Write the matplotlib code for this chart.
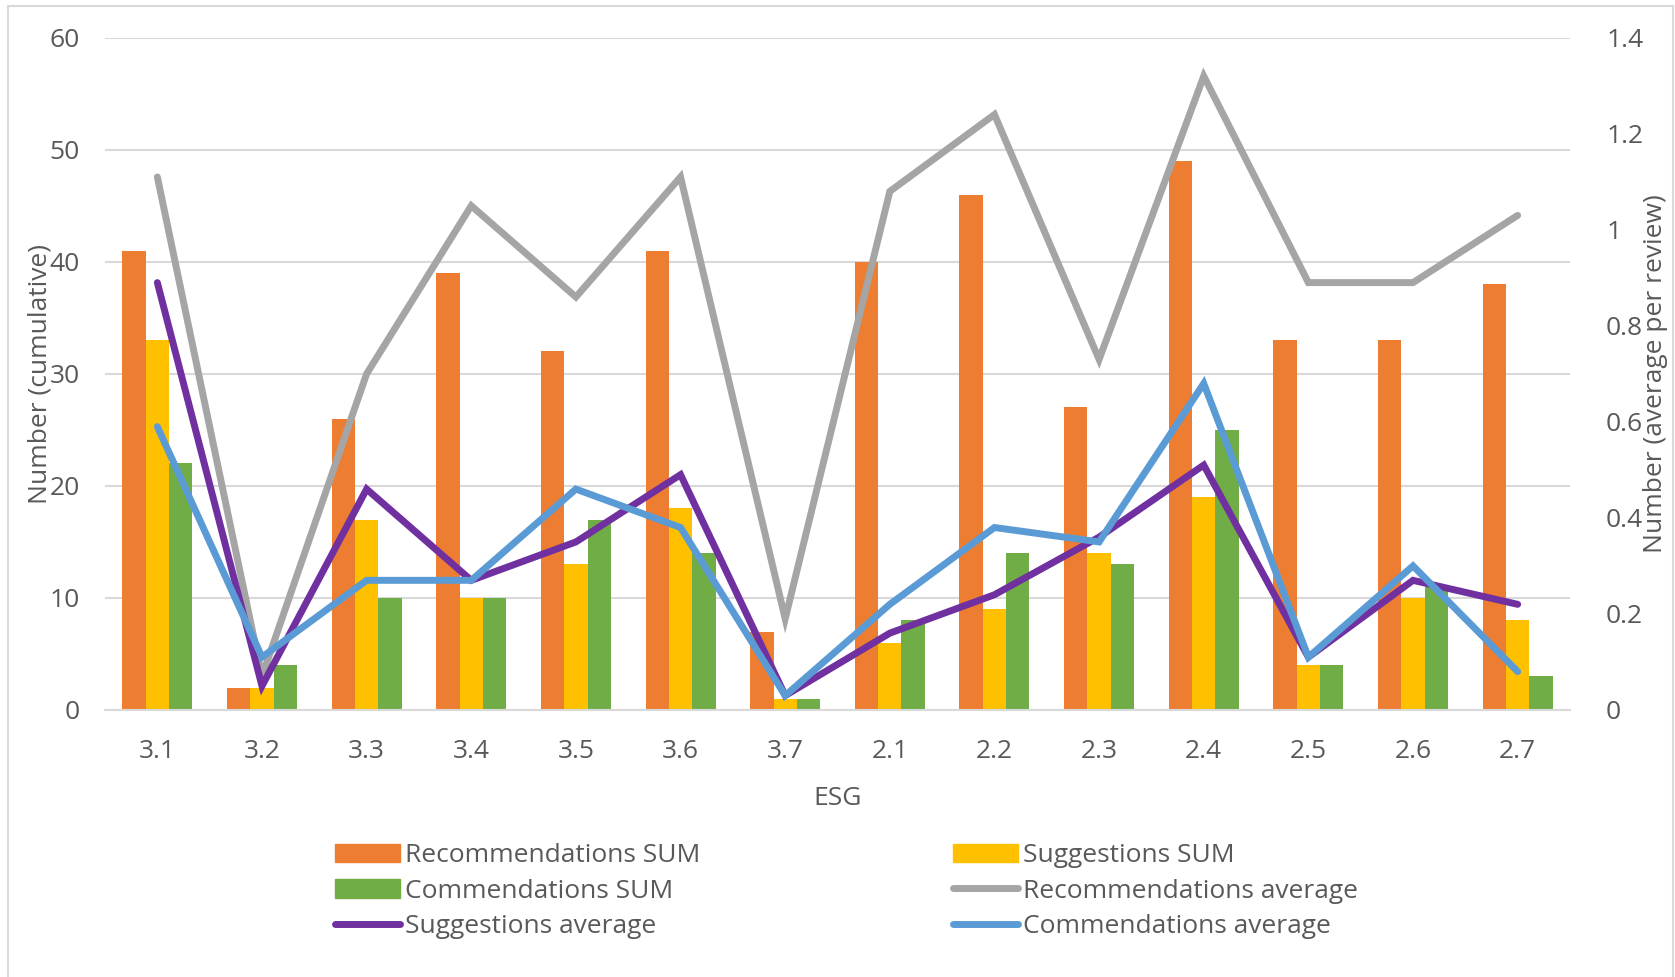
import matplotlib
matplotlib.use("Agg")
from matplotlib import pyplot as plt
from matplotlib.lines import Line2D
from matplotlib.patches import Patch, Rectangle
import numpy as np

plt.rcParams['font.family'] = ['Open Sans', 'DejaVu Sans']

categories = ['3.1', '3.2', '3.3', '3.4', '3.5', '3.6', '3.7',
              '2.1', '2.2', '2.3', '2.4', '2.5', '2.6', '2.7']

rec_sum = [41, 2, 26, 39, 32, 41, 7, 40, 46, 27, 49, 33, 33, 38]
sug_sum = [33, 2, 17, 10, 13, 18, 1, 6, 9, 14, 19, 4, 10, 8]
com_sum = [22, 4, 10, 10, 17, 14, 1, 8, 14, 13, 25, 4, 11, 3]

rec_avg = [1.11, 0.07, 0.70, 1.05, 0.86, 1.11, 0.19, 1.08, 1.24, 0.73, 1.32, 0.89, 0.89, 1.03]
sug_avg = [0.89, 0.05, 0.46, 0.27, 0.35, 0.49, 0.03, 0.16, 0.24, 0.36, 0.51, 0.11, 0.27, 0.22]
com_avg = [0.59, 0.11, 0.27, 0.27, 0.46, 0.38, 0.03, 0.22, 0.38, 0.35, 0.68, 0.11, 0.30, 0.08]

c_orange = '#ED7D31'
c_yellow = '#FFC000'
c_green = '#70AD47'
c_gray = '#A5A5A5'
c_purple = '#7030A0'
c_blue = '#5B9BD5'
txt = '#595959'
grid_c = '#D9D9D9'
fs = 19

fig = plt.figure(figsize=(16.75, 9.77), dpi=100)
# light chart border (bottom edge falls outside the image)
fig.patches.append(Rectangle((8 / 1675, -0.05), (1673 - 8) / 1675, 1.05 - 6 / 977,
                             transform=fig.transFigure, fill=False,
                             edgecolor='#D9D9D9', linewidth=1.5))

ax = fig.add_axes([0.0627, 0.2733, 0.8746, 0.6881])
x = np.arange(len(categories))
w = 0.223
ax.bar(x - w, rec_sum, w, color=c_orange, zorder=2)
ax.bar(x, sug_sum, w, color=c_yellow, zorder=2)
ax.bar(x + w, com_sum, w, color=c_green, zorder=2)

ax.set_xlim(-0.5, len(categories) - 0.5)
ax.set_ylim(0, 60)
ax.set_yticks(range(0, 61, 10))
ax.yaxis.grid(True, color=grid_c, linewidth=1.5, zorder=0)
ax.set_axisbelow(True)
for s in ['top', 'right', 'left']:
    ax.spines[s].set_visible(False)
ax.spines['bottom'].set_color(grid_c)
ax.spines['bottom'].set_linewidth(1.5)
ax.set_xticks(x)
ax.set_xticklabels(categories)
ax.tick_params(axis='both', length=0, labelsize=fs, labelcolor=txt)
ax.tick_params(axis='x', pad=21)
ax.tick_params(axis='y', pad=18)
ax.set_xlabel('ESG', fontsize=fs, color=txt, labelpad=16)
ax.set_ylabel('Number (cumulative)', fontsize=fs, color=txt, labelpad=-2)

ax2 = ax.twinx()
lw = 5
ax2.plot(x, rec_avg, color=c_gray, lw=lw, solid_capstyle='round', solid_joinstyle='miter')
ax2.plot(x, sug_avg, color=c_purple, lw=lw, solid_capstyle='round', solid_joinstyle='miter')
ax2.plot(x, com_avg, color=c_blue, lw=lw, solid_capstyle='round', solid_joinstyle='miter')
ax2.set_ylim(0, 1.4)
ax2.set_yticks([0, 0.2, 0.4, 0.6, 0.8, 1.0, 1.2, 1.4])
ax2.set_yticklabels(['0', '0.2', '0.4', '0.6', '0.8', '1', '1.2', '1.4'])
for s in ax2.spines.values():
    s.set_visible(False)
ax2.tick_params(axis='y', length=0, labelsize=fs, labelcolor=txt, pad=26)
ax2.set_ylabel('Number (average per review)', fontsize=fs, color=txt, labelpad=0)

h_rec_sum = Patch(color=c_orange, label='Recommendations SUM')
h_sug_sum = Patch(color=c_yellow, label='Suggestions SUM')
h_com_sum = Patch(color=c_green, label='Commendations SUM')
h_rec_avg = Line2D([], [], color=c_gray, lw=lw, solid_capstyle='round', label='Recommendations average')
h_sug_avg = Line2D([], [], color=c_purple, lw=lw, solid_capstyle='round', label='Suggestions average')
h_com_avg = Line2D([], [], color=c_blue, lw=lw, solid_capstyle='round', label='Commendations average')

leg_kw = dict(loc='upper left', frameon=False, fontsize=fs, handlelength=2.45,
              handletextpad=0.22, labelspacing=0.4, borderpad=0, borderaxespad=0)
leg1 = fig.legend(handles=[h_rec_sum, h_com_sum, h_sug_avg],
                  bbox_to_anchor=(335 / 1675, 1 - 843 / 977), **leg_kw)
leg2 = fig.legend(handles=[h_sug_sum, h_rec_avg, h_com_avg],
                  bbox_to_anchor=(953 / 1675, 1 - 843 / 977), **leg_kw)
for leg in (leg1, leg2):
    for t in leg.get_texts():
        t.set_color(txt)

fig.savefig('out.png', dpi=100)
